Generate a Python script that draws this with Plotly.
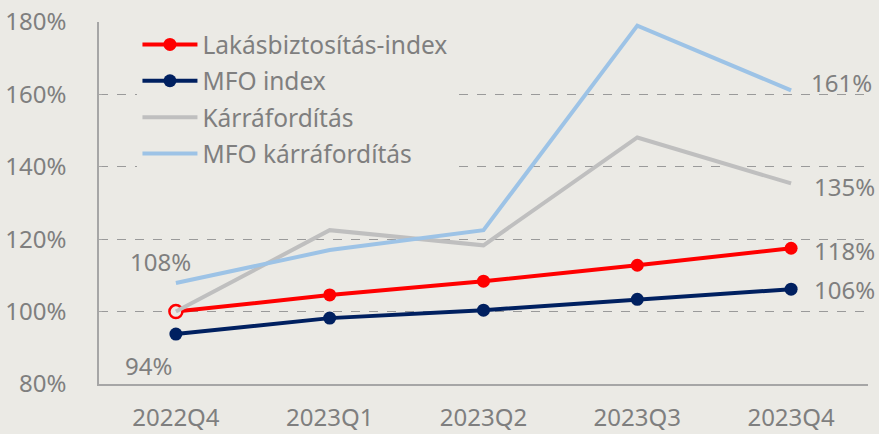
import plotly.graph_objects as go

categories = ["2022Q4", "2023Q1", "2023Q2", "2023Q3", "2023Q4"]
lakas_index = [100.0, 104.6, 108.4, 112.8, 117.5]
mfo_index = [93.8, 98.2, 100.4, 103.4, 106.2]
karraforditas = [100.0, 122.5, 118.3, 148.1, 135.4]
mfo_karraforditas = [107.9, 117.0, 122.5, 179.0, 161.1]
y_ticks = [80, 100, 120, 140, 160, 180]
y_ticklabels = [f"{v}%" for v in y_ticks]

BG = "#EBEAE5"
FONT = "Noto Sans"
GREY_TXT = "#7F7F7F"

fig = go.Figure()
fig.add_trace(go.Scatter(
    x=categories, y=lakas_index, name="Lakásbiztosítás-index",
    mode="lines+markers", legendgroup="a",
    line=dict(color="#FF0000", width=4),
    marker=dict(size=13, color="#FF0000"),
))
# hollow first marker overlay
fig.add_trace(go.Scatter(
    x=categories[:1], y=lakas_index[:1], mode="markers", showlegend=False,
    marker=dict(size=13, color=BG, line=dict(color="#FF0000", width=2.5)),
    hoverinfo="skip",
))
fig.add_trace(go.Scatter(
    x=categories, y=mfo_index, name="MFO index",
    mode="lines+markers", legendgroup="b",
    line=dict(color="#002060", width=4),
    marker=dict(size=13, color="#002060"),
))
fig.add_trace(go.Scatter(
    x=categories, y=karraforditas, name="Kárráfordítás",
    mode="lines", legendgroup="c",
    line=dict(color="#BFBFBF", width=4),
))
fig.add_trace(go.Scatter(
    x=categories, y=mfo_karraforditas, name="MFO kárráfordítás",
    mode="lines", legendgroup="d",
    line=dict(color="#9DC3E6", width=4),
))

def lab(x, y, xshift, yshift, xanchor="left"):
    fig.add_annotation(x=x, y=y, xref="x", yref="y", text=f"{round(y)}%",
                       showarrow=False, xanchor=xanchor, yanchor="middle",
                       xshift=xshift, yshift=yshift,
                       font=dict(family=FONT, size=24, color=GREY_TXT))

lab(categories[4], mfo_karraforditas[4], 18, 8)
lab(categories[4], karraforditas[4], 21, -3)
lab(categories[4], lakas_index[4], 21, -2)
lab(categories[4], mfo_index[4], 21, 0)
lab(categories[0], mfo_karraforditas[0], -15, 22, "center")
lab(categories[0], mfo_index[0], -27, -31, "center")

fig.update_layout(
    width=879, height=434,
    paper_bgcolor=BG, plot_bgcolor=BG,
    margin=dict(l=99, r=11, t=22, b=50),
    font=dict(family=FONT, size=24, color=GREY_TXT),
    showlegend=True,
    legend=dict(x=0.05, y=1.0, xanchor="left", yanchor="top",
                bgcolor=BG, font=dict(family=FONT, size=24.5, color=GREY_TXT),
                tracegroupgap=1.5, itemwidth=55),
)
fig.update_xaxes(
    type="category", range=[-0.5, 4.5], automargin=False,
    showline=True, linecolor="#A6A6A6", linewidth=1.5,
    showgrid=False, ticks="", tickfont=dict(size=24, color=GREY_TXT),
    ticklabelstandoff=11,
)
fig.update_yaxes(
    range=[80, 180], tickvals=y_ticks, ticktext=y_ticklabels, automargin=False,
    showline=True, linecolor="#A6A6A6", linewidth=1.5,
    showgrid=True, gridcolor="#9A9A9A", griddash="dash", gridwidth=1,
    zeroline=False, ticks="inside", ticklen=3, tickcolor="#A6A6A6",
    tickfont=dict(size=24, color=GREY_TXT), ticklabelstandoff=26,
)

fig.write_html(
    "out.html",
    config={"displayModeBar": False},
    post_script="document.body.style.margin='0';document.body.style.background='%s';" % BG,
)
